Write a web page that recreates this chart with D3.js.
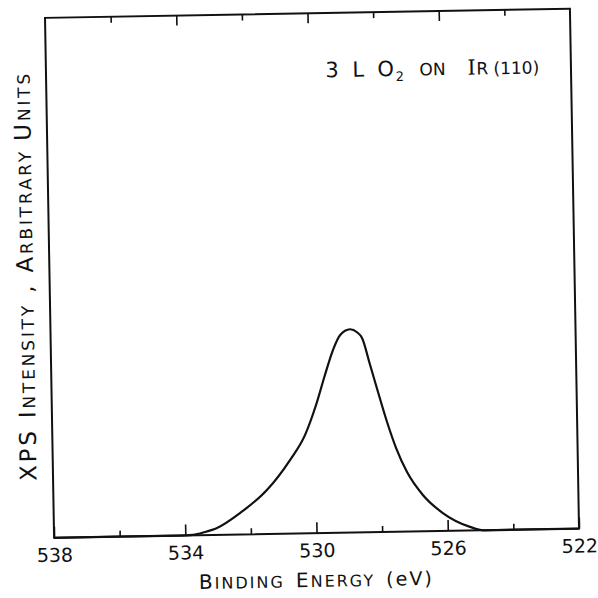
<!DOCTYPE html>
<html>
<head>
<meta charset="utf-8">
<script src="https://cdn.jsdelivr.net/npm/d3@7"></script>
<style>
  html, body { margin: 0; padding: 0; background: #fff; }
  svg { display: block; }
  text { font-family: "DejaVu Sans", "Liberation Sans", sans-serif; fill: #111; }
</style>
</head>
<body>
<svg id="chart" width="598" height="598"></svg>
<script>
// Binding energy (eV) and XPS intensity (arbitrary units, % of frame height)
const energies = [538, 534.2, 533.77, 533.4, 533.03, 532.32, 531.49, 530.77, 530.30, 529.95, 529.66, 529.40, 529.18, 528.87, 528.66, 528.51, 528.28, 528.05, 527.79, 527.53, 527.21, 526.74, 526.14, 525.32, 524.9, 522];
const intensities = [0, 0, 0.1, 0.6, 1.34, 4.14, 8.47, 14.16, 18.9, 24.6, 30.4, 35.2, 38.0, 39.1, 38.5, 37.4, 32.2, 26.9, 21.1, 16.1, 11.45, 6.99, 3.45, 0.7, 0, 0];
const majorTicks = [538, 534, 530, 526, 522];
const minorTicks = [536, 532, 528, 524];
const tickLabels = ["538", "534", "530", "526", "522"];

const svg = d3.select("#chart");
const L = 49.5, R = 574.5, T = 13.25, B = 533.25;
const g = svg.append("g").attr("transform", "rotate(-1, 312, 273)");

const x = d3.scaleLinear().domain([538, 522]).range([L, R]);
const y = d3.scaleLinear().domain([0, 100]).range([B, T]);

// frame
g.append("rect").attr("x", L).attr("y", T).attr("width", R - L).attr("height", B - T)
  .attr("fill", "none").attr("stroke", "#111").attr("stroke-width", 2);

// bottom axis (major ticks, inward)
const bottomMajor = g.append("g").attr("transform", `translate(0,${B})`)
  .call(d3.axisBottom(x).tickValues(majorTicks).tickSize(-11).tickPadding(0)
    .tickFormat((d, i) => tickLabels[i]));
bottomMajor.select(".domain").remove();
bottomMajor.selectAll("line").attr("stroke", "#111").attr("stroke-width", 1.6);
bottomMajor.selectAll("text").attr("y", 24).attr("dy", 0)
  .attr("font-size", 19).attr("font-family", "DejaVu Sans, sans-serif").attr("fill", "#111");

const bottomMinor = g.append("g").attr("transform", `translate(0,${B})`)
  .call(d3.axisBottom(x).tickValues(minorTicks).tickSize(-6).tickFormat(""));
bottomMinor.select(".domain").remove();
bottomMinor.selectAll("line").attr("stroke", "#111").attr("stroke-width", 1.6);

// top axis
const topMajor = g.append("g").attr("transform", `translate(0,${T})`)
  .call(d3.axisTop(x).tickValues(majorTicks.slice(1, -1)).tickSize(-10).tickFormat(""));
topMajor.select(".domain").remove();
topMajor.selectAll("line").attr("stroke", "#111").attr("stroke-width", 1.6);
const topMinor = g.append("g").attr("transform", `translate(0,${T})`)
  .call(d3.axisTop(x).tickValues(minorTicks).tickSize(-6).tickFormat(""));
topMinor.select(".domain").remove();
topMinor.selectAll("line").attr("stroke", "#111").attr("stroke-width", 1.6);

// curve
const pts = energies.map((e, i) => [e, intensities[i]]);
g.append("path").datum(pts)
  .attr("fill", "none").attr("stroke", "#111").attr("stroke-width", 2.2)
  .attr("stroke-linejoin", "round")
  .attr("d", d3.line().x(d => x(d[0])).y(d => y(d[1])).curve(d3.curveMonotoneX));

// x-axis title in small caps style
const xt = g.append("text").attr("x", 311).attr("y", 587).attr("text-anchor", "middle")
  .attr("font-size", 16).attr("letter-spacing", 2).attr("word-spacing", 4);
xt.append("tspan").attr("font-size", 20).text("B");
xt.append("tspan").text("INDING ");
xt.append("tspan").attr("font-size", 20).text("E");
xt.append("tspan").text("NERGY ");
xt.append("tspan").attr("font-size", 19).text("(eV)");

// y-axis title
const yt = g.append("text").attr("transform", "translate(33,271) rotate(-90)")
  .attr("text-anchor", "middle").attr("font-size", 17).attr("letter-spacing", 2.8);
yt.append("tspan").attr("font-size", 23).text("XPS I");
yt.append("tspan").text("NTENSITY");
yt.append("tspan").attr("font-size", 23).text(" , A");
yt.append("tspan").text("RBITRARY ");
yt.append("tspan").attr("font-size", 23).text("U");
yt.append("tspan").text("NITS");

// annotation
const ann = g.append("text").attr("y", 77.5).attr("font-size", 17);
ann.append("tspan").attr("x", 329).attr("font-size", 21).text("3");
ann.append("tspan").attr("x", 356).attr("font-size", 21).text("L");
ann.append("tspan").attr("x", 381).attr("font-size", 21).text("O");
ann.append("tspan").attr("x", 399).attr("font-size", 13).attr("dy", 5).text("2");
ann.append("tspan").attr("x", 423).attr("dy", -5).text("ON");
ann.append("tspan").attr("x", 471).attr("font-size", 21).attr("font-family", "DejaVu Serif, serif").text("I");
ann.append("tspan").attr("x", 480).text("R");
ann.append("tspan").attr("x", 497).text("(110)");
</script>
</body>
</html>
